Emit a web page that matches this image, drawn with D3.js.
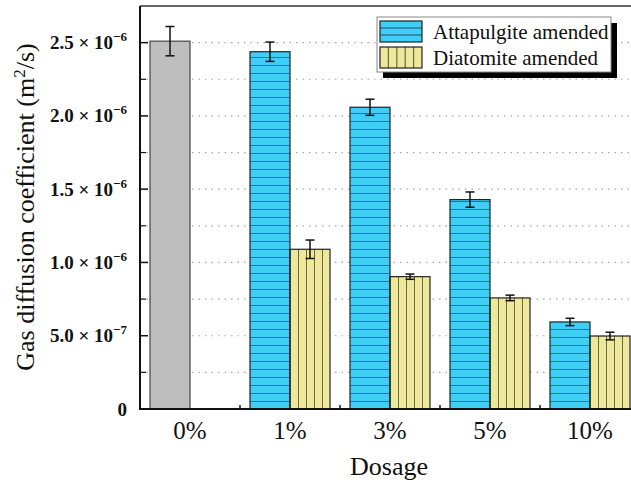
<!DOCTYPE html>
<html>
<head>
<meta charset="utf-8">
<script src="https://cdn.jsdelivr.net/npm/d3@7"></script>
<style>
  html, body { margin: 0; padding: 0; background: #fff; }
  svg { display: block; font-family: "Liberation Serif", "Times New Roman", serif; }
</style>
</head>
<body>
<svg id="chart" width="631" height="483"></svg>
<script>
// Gas diffusion coefficient by clay dosage
const categories = ["0%", "1%", "3%", "5%", "10%"];
const series = ["Attapulgite amended", "Diatomite amended"];
const amendedDosages = ["1%", "3%", "5%", "10%"];

const controlValue = 2.51e-6;
const controlError = 0.10e-6;

const attapulgite = [2.438e-6, 2.059e-6, 1.429e-6, 0.594e-6];
const attapulgiteError = [0.066e-6, 0.055e-6, 0.052e-6, 0.025e-6];

const diatomite = [1.090e-6, 0.903e-6, 0.758e-6, 0.498e-6];
const diatomiteError = [0.063e-6, 0.018e-6, 0.019e-6, 0.026e-6];

const yMajorTicks = [0, 5e-7, 1e-6, 1.5e-6, 2e-6, 2.5e-6];
const yTickLabels = [
  { base: "0", exp: "" },
  { base: "5.0 \u00d7 10", exp: "\u22127" },
  { base: "1.0 \u00d7 10", exp: "\u22126" },
  { base: "1.5 \u00d7 10", exp: "\u22126" },
  { base: "2.0 \u00d7 10", exp: "\u22126" },
  { base: "2.5 \u00d7 10", exp: "\u22126" }
];
const yMinorTicks = [2.5e-7, 7.5e-7, 1.25e-6, 1.75e-6, 2.25e-6];

const colors = { control: "#bebebe", attapulgite: "#40cdf7", diatomite: "#eee89a" };

const svg = d3.select("#chart");
const plot = { left: 140, right: 640, top: 6, bottom: 409 };

const x = d3.scaleBand().domain(categories).range([plot.left, plot.right]).padding(0);
const xSub = d3.scaleBand().domain(series).range([10, 90]).padding(0);
const y = d3.scaleLinear().domain([0, 2.75e-6]).range([plot.bottom, plot.top]);

// hatch patterns
const defs = svg.append("defs");
const hp = defs.append("pattern")
  .attr("id", "hatch-h").attr("patternUnits", "userSpaceOnUse")
  .attr("x", 0).attr("y", plot.bottom % 8).attr("width", 8).attr("height", 8);
hp.append("rect").attr("width", 8).attr("height", 8).attr("fill", colors.attapulgite);
hp.append("line").attr("x1", 0).attr("x2", 8).attr("y1", 0).attr("y2", 0)
  .attr("stroke", "#1f4f66").attr("stroke-width", 1.4);

const vp = defs.append("pattern")
  .attr("id", "hatch-v").attr("patternUnits", "objectBoundingBox")
  .attr("patternContentUnits", "objectBoundingBox")
  .attr("x", 0).attr("y", 0).attr("width", 0.2).attr("height", 1);
vp.append("rect").attr("width", 0.2).attr("height", 1).attr("fill", colors.diatomite);
vp.append("rect").attr("x", 0).attr("y", 0).attr("width", 0.025).attr("height", 1)
  .attr("fill", "#6b6948");

// dotted grid
svg.append("g").selectAll("line")
  .data(yMajorTicks.concat(yMinorTicks).filter(d => d > 0))
  .join("line")
  .attr("x1", plot.left).attr("x2", plot.right)
  .attr("y1", d => y(d)).attr("y2", d => y(d))
  .attr("stroke", "#a8a8a8").attr("stroke-width", 1.2)
  .attr("stroke-dasharray", "1.5,5");

// top frame line
svg.append("line")
  .attr("x1", plot.left).attr("x2", plot.right)
  .attr("y1", plot.top).attr("y2", plot.top)
  .attr("stroke", "#333").attr("stroke-width", 1.5);

// bars
const bars = svg.append("g");
bars.append("rect")
  .attr("x", x("0%") + xSub(series[0]))
  .attr("y", y(controlValue))
  .attr("width", xSub.bandwidth())
  .attr("height", y(0) - y(controlValue))
  .attr("fill", colors.control).attr("stroke", "#444").attr("stroke-width", 1.2);

const groups = amendedDosages.map((c, i) => ({
  c,
  a: attapulgite[i], ae: attapulgiteError[i],
  d: diatomite[i], de: diatomiteError[i]
}));

bars.selectAll("rect.att").data(groups).join("rect")
  .attr("class", "att")
  .attr("x", d => x(d.c) + xSub(series[0]))
  .attr("y", d => y(d.a))
  .attr("width", xSub.bandwidth())
  .attr("height", d => y(0) - y(d.a))
  .attr("fill", "url(#hatch-h)").attr("stroke", "#222").attr("stroke-width", 1.2);

bars.selectAll("rect.dia").data(groups).join("rect")
  .attr("class", "dia")
  .attr("x", d => x(d.c) + xSub(series[1]))
  .attr("y", d => y(d.d))
  .attr("width", xSub.bandwidth())
  .attr("height", d => y(0) - y(d.d))
  .attr("fill", "url(#hatch-v)").attr("stroke", "#222").attr("stroke-width", 1.2);

// error bars
const errs = [{ cx: x("0%") + xSub(series[0]) + xSub.bandwidth() / 2, v: controlValue, e: controlError }]
  .concat(groups.map(d => ({ cx: x(d.c) + xSub(series[0]) + xSub.bandwidth() / 2, v: d.a, e: d.ae })))
  .concat(groups.map(d => ({ cx: x(d.c) + xSub(series[1]) + xSub.bandwidth() / 2, v: d.d, e: d.de })));

const eg = svg.append("g").attr("stroke", "#111").attr("stroke-width", 1.5);
errs.forEach(d => {
  eg.append("line").attr("x1", d.cx).attr("x2", d.cx)
    .attr("y1", y(d.v + d.e)).attr("y2", y(d.v - d.e));
  eg.append("line").attr("x1", d.cx - 4.5).attr("x2", d.cx + 4.5)
    .attr("y1", y(d.v + d.e)).attr("y2", y(d.v + d.e));
  eg.append("line").attr("x1", d.cx - 4.5).attr("x2", d.cx + 4.5)
    .attr("y1", y(d.v - d.e)).attr("y2", y(d.v - d.e));
});

// y axis
const yAxis = svg.append("g");
yAxis.append("line").attr("x1", plot.left).attr("x2", plot.left)
  .attr("y1", plot.top).attr("y2", plot.bottom + 1)
  .attr("stroke", "#111").attr("stroke-width", 2);
yAxis.selectAll("line.maj").data(yMajorTicks.filter(d => d > 0)).join("line")
  .attr("class", "maj")
  .attr("x1", plot.left).attr("x2", plot.left + 8)
  .attr("y1", d => y(d)).attr("y2", d => y(d))
  .attr("stroke", "#111").attr("stroke-width", 1.5);
yAxis.selectAll("line.min").data(yMinorTicks).join("line")
  .attr("class", "min")
  .attr("x1", plot.left).attr("x2", plot.left + 6)
  .attr("y1", d => y(d)).attr("y2", d => y(d))
  .attr("stroke", "#111").attr("stroke-width", 1.2);

const yl = yAxis.selectAll("text.tl").data(yMajorTicks).join("text")
  .attr("class", "tl")
  .attr("x", plot.left - 13)
  .attr("y", d => y(d) + 6.5)
  .attr("text-anchor", "end")
  .attr("font-size", 19).attr("font-weight", "bold").attr("fill", "#111");
yl.each(function (d, i) {
  const t = d3.select(this);
  const lab = yTickLabels[i];
  t.append("tspan").text(lab.base);
  if (lab.exp) {
    t.append("tspan").attr("dy", -8).attr("font-size", 13).text(lab.exp);
  }
});

// x axis
const xAxis = svg.append("g");
xAxis.append("line").attr("x1", plot.left - 1).attr("x2", plot.right)
  .attr("y1", plot.bottom).attr("y2", plot.bottom)
  .attr("stroke", "#111").attr("stroke-width", 2);
xAxis.selectAll("line.tk").data(categories.slice(1)).join("line")
  .attr("class", "tk")
  .attr("x1", d => x(d)).attr("x2", d => x(d))
  .attr("y1", plot.bottom).attr("y2", plot.bottom - 4)
  .attr("stroke", "#111").attr("stroke-width", 1.5);
xAxis.selectAll("text").data(categories).join("text")
  .attr("x", d => x(d) + x.bandwidth() / 2)
  .attr("y", 439)
  .attr("text-anchor", "middle")
  .attr("font-size", 25).attr("fill", "#111")
  .text(d => d);

// axis titles
svg.append("text")
  .attr("x", (plot.left + plot.right) / 2 - 1).attr("y", 475)
  .attr("text-anchor", "middle").attr("font-size", 26).attr("fill", "#111")
  .text("Dosage");

const yt = svg.append("text")
  .attr("transform", "translate(34,207) rotate(-90)")
  .attr("text-anchor", "middle").attr("font-size", 26).attr("fill", "#111");
yt.append("tspan").text("Gas diffusion coefficient (m");
yt.append("tspan").attr("dy", -9).attr("font-size", 17).text("2");
yt.append("tspan").attr("dy", 9).text("/s)");

// legend
const lg = svg.append("g").attr("transform", "translate(377,17)");
const lw = 234, lh = 55;
lg.append("rect").attr("x", 6).attr("y", 6).attr("width", lw).attr("height", lh).attr("fill", "#000");
lg.append("rect").attr("x", 0).attr("y", 0).attr("width", lw).attr("height", lh)
  .attr("fill", "#fff").attr("stroke", "#888").attr("stroke-width", 1);

const sw = { x: 3, w: 42, h: 21 };
const s1 = lg.append("g").attr("transform", "translate(" + sw.x + ",4)");
s1.append("rect").attr("width", sw.w).attr("height", sw.h).attr("fill", colors.attapulgite);
d3.range(1, 3).forEach(k => s1.append("line")
  .attr("x1", 0).attr("x2", sw.w).attr("y1", k * sw.h / 3).attr("y2", k * sw.h / 3)
  .attr("stroke", "#1f4f66").attr("stroke-width", 1.2));
s1.append("rect").attr("width", sw.w).attr("height", sw.h).attr("fill", "none")
  .attr("stroke", "#222").attr("stroke-width", 1.2);

const s2 = lg.append("g").attr("transform", "translate(" + sw.x + ",30)");
s2.append("rect").attr("width", sw.w).attr("height", sw.h).attr("fill", colors.diatomite);
d3.range(1, 5).forEach(k => s2.append("line")
  .attr("x1", k * sw.w / 5).attr("x2", k * sw.w / 5).attr("y1", 0).attr("y2", sw.h)
  .attr("stroke", "#6b6948").attr("stroke-width", 1.2));
s2.append("rect").attr("width", sw.w).attr("height", sw.h).attr("fill", "none")
  .attr("stroke", "#222").attr("stroke-width", 1.2);

lg.selectAll("text.lt").data(series).join("text")
  .attr("class", "lt")
  .attr("x", 56).attr("y", (d, i) => 21.5 + i * 26)
  .attr("font-size", 21).attr("fill", "#111")
  .text(d => d);
</script>
</body>
</html>
